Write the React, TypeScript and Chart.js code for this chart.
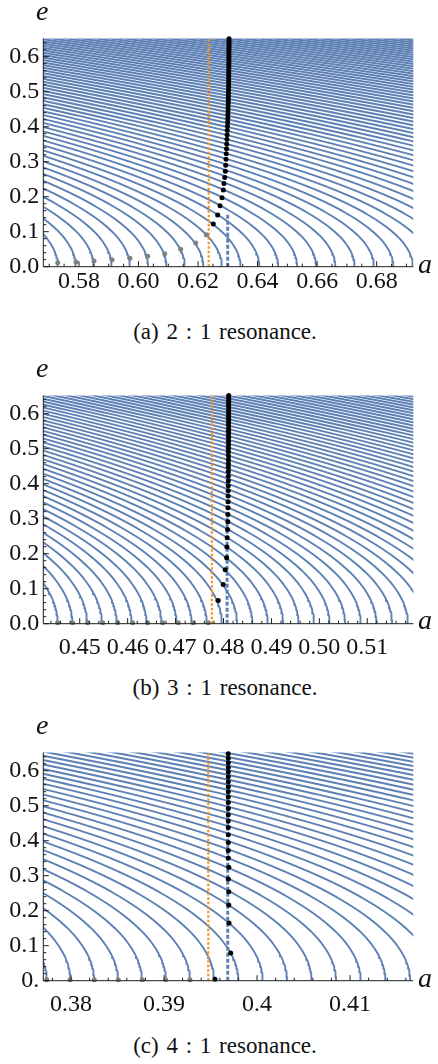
import React, { useEffect, useRef } from 'react';
import { Chart, registerables } from 'chart.js';

Chart.register(...registerables);

const SERIF = "'Liberation Serif', 'Times New Roman', 'DejaVu Serif', serif";
const CURVE_COLOR = '#5e81b5';
const ORANGE_COLOR = '#f7931e';
const GRAY_COLOR = '#808080';
const AXIS_COLOR = '#1e1e1e';

const E_MAX = 0.652;
const yTickValues = [0, 0.1, 0.2, 0.3, 0.4, 0.5, 0.6];

// ---------- (a) 2 : 1 resonance ----------
const r21Range = [0.56801, 0.6923];
const r21XTicks = [0.58, 0.6, 0.62, 0.64, 0.66, 0.68];
const r21XLabels = ['0.58', '0.60', '0.62', '0.64', '0.66', '0.68'];
const r21YLabels = ['0.0', '0.1', '0.2', '0.3', '0.4', '0.5', '0.6'];
const r21Resonance = 0.62996;
const r21ResonanceTop = 0.15;
const r21Orange = 0.62357;
const r21LevelFirst = 0.75692;
const r21LevelStep = 0.003949;
const r21LevelCount = 73;
const r21Coef = 1;
const r21Black = [
  [0.62511, 0.122], [0.62659, 0.148], [0.62737, 0.174], [0.62804, 0.197], [0.62848, 0.219],
  [0.62871, 0.238], [0.62895, 0.255], [0.62915, 0.273], [0.62928, 0.29], [0.62938, 0.307],
  [0.62948, 0.3225], [0.62956, 0.337], [0.62963, 0.3508], [0.6297, 0.3642], [0.62976, 0.3772],
  [0.62982, 0.3897], [0.62988, 0.4018], [0.62993, 0.4134], [0.62998, 0.4247], [0.63002, 0.4356],
  [0.63006, 0.4461], [0.6301, 0.4563], [0.63013, 0.4662], [0.63016, 0.4758], [0.63019, 0.4851],
  [0.63021, 0.4942], [0.63023, 0.503], [0.63025, 0.5116], [0.63027, 0.52], [0.63028, 0.5282],
  [0.63029, 0.5362], [0.6303, 0.544], [0.63031, 0.5517], [0.63032, 0.5592], [0.63033, 0.5666],
  [0.63034, 0.5738], [0.63034, 0.5809], [0.63035, 0.5879], [0.63035, 0.5948], [0.63036, 0.6015],
  [0.63036, 0.6081], [0.63037, 0.6146], [0.63037, 0.621], [0.63038, 0.6273], [0.63038, 0.6335],
  [0.63039, 0.6396], [0.63039, 0.6456], [0.6304, 0.6516],
];
const r21Gray = [
  [0.57285, 0.0114], [0.57899, 0.0133], [0.58504, 0.0162], [0.59109, 0.02], [0.59713, 0.024],
  [0.60308, 0.0297], [0.60879, 0.037], [0.61416, 0.05], [0.6192, 0.068], [0.62276, 0.0914],
];

// ---------- (b) 3 : 1 resonance ----------
const r31Range = [0.4424, 0.5196];
const r31XTicks = [0.45, 0.46, 0.47, 0.48, 0.49, 0.5, 0.51];
const r31XLabels = ['0.45', '0.46', '0.47', '0.48', '0.49', '0.50', '0.51'];
const r31YLabels = ['0.0', '0.1', '0.2', '0.3', '0.4', '0.5', '0.6'];
const r31Resonance = 0.48075;
const r31ResonanceTop = 0.652;
const r31Orange = 0.47758;
const r31LevelFirst = 0.66738;
const r31LevelStep = 0.00229;
const r31LevelCount = 64;
const r31Coef = 0.5;
const r31Black = [
  [0.4789, 0.0666], [0.47994, 0.1123], [0.48036, 0.154], [0.48065, 0.1886], [0.48071, 0.219],
  [0.48077, 0.2457], [0.48086, 0.2694], [0.48092, 0.2914], [0.48092, 0.312], [0.48095, 0.331],
  [0.48098, 0.3486], [0.48098, 0.3646], [0.481, 0.38], [0.481, 0.394], [0.48101, 0.408],
  [0.48101, 0.421], [0.48102, 0.434], [0.48102, 0.446], [0.48103, 0.458], [0.48103, 0.469],
  [0.48104, 0.48], [0.48104, 0.491], [0.48104, 0.501], [0.48105, 0.511], [0.48105, 0.521],
  [0.48105, 0.531], [0.48106, 0.54], [0.48106, 0.549], [0.48106, 0.558], [0.48106, 0.567],
  [0.48107, 0.576], [0.48107, 0.584], [0.48107, 0.592], [0.48107, 0.6], [0.48108, 0.608],
  [0.48108, 0.616], [0.48108, 0.624], [0.48108, 0.631], [0.48108, 0.638], [0.48109, 0.645],
  [0.48109, 0.652],
];
const r31Gray = [
  [0.4454, 0.003], [0.44853, 0.003], [0.45166, 0.003], [0.45479, 0.003], [0.45792, 0.003],
  [0.46104, 0.003], [0.46417, 0.003], [0.4673, 0.003], [0.47056, 0.003], [0.47368, 0.003],
  [0.47681, 0.003],
];

// ---------- (c) 4 : 1 resonance ----------
const r41Range = [0.37702, 0.4168];
const r41XTicks = [0.38, 0.39, 0.4, 0.41];
const r41XLabels = ['0.38', '0.39', '0.4', '0.41'];
const r41YLabels = ['0.', '0.1', '0.2', '0.3', '0.4', '0.5', '0.6'];
const r41Resonance = 0.39685;
const r41ResonanceTop = 0.652;
const r41Orange = 0.39476;
const r41LevelFirst = 0.61432;
const r41LevelStep = 0.002068;
const r41LevelCount = 43;
const r41Coef = 1 / 3;
const r41Black = [
  [0.39548, 0.004], [0.39717, 0.079], [0.39699, 0.165], [0.39696, 0.216], [0.39696, 0.254],
  [0.39691, 0.2905], [0.39696, 0.324], [0.39691, 0.3505], [0.39691, 0.372], [0.39691, 0.395],
  [0.39691, 0.417], [0.39691, 0.438], [0.39691, 0.456], [0.39691, 0.474], [0.39691, 0.492],
  [0.39691, 0.509], [0.39691, 0.525], [0.39691, 0.54], [0.39691, 0.5545], [0.39691, 0.5687],
  [0.39691, 0.5826], [0.39691, 0.5962], [0.39691, 0.6095], [0.39691, 0.6226], [0.39691, 0.6355],
  [0.39691, 0.6482],
];
const r41Gray = [
  [0.37739, 0.003], [0.37989, 0.003], [0.3825, 0.003], [0.38508, 0.003], [0.38766, 0.003],
  [0.39018, 0.003], [0.39279, 0.003],
];

type PanelCfg = {
  id: string;
  caption: string;
  plotTop: number;
  xRange: number[];
  xTicks: number[];
  xLabels: string[];
  yLabels: string[];
  xMinorStep: number;
  xLabelPad: number;
  resonance: number;
  resonanceTop: number;
  orange: number;
  levelFirst: number;
  levelStep: number;
  levelCount: number;
  coef: number;
  black: number[][];
  gray: number[][];
};

const panels: PanelCfg[] = [
  {
    id: 'a', caption: '(a) 2 : 1 resonance.', plotTop: 38.5,
    xRange: r21Range, xTicks: r21XTicks, xLabels: r21XLabels, yLabels: r21YLabels,
    xMinorStep: 0.005, xLabelPad: 0.5, resonance: r21Resonance, resonanceTop: r21ResonanceTop,
    orange: r21Orange, levelFirst: r21LevelFirst, levelStep: r21LevelStep,
    levelCount: r21LevelCount, coef: r21Coef, black: r21Black, gray: r21Gray,
  },
  {
    id: 'b', caption: '(b) 3 : 1 resonance.', plotTop: 395,
    xRange: r31Range, xTicks: r31XTicks, xLabels: r31XLabels, yLabels: r31YLabels,
    xMinorStep: 0.002, xLabelPad: 10, resonance: r31Resonance, resonanceTop: r31ResonanceTop,
    orange: r31Orange, levelFirst: r31LevelFirst, levelStep: r31LevelStep,
    levelCount: r31LevelCount, coef: r31Coef, black: r31Black, gray: r31Gray,
  },
  {
    id: 'c', caption: '(c) 4 : 1 resonance.', plotTop: 752.7,
    xRange: r41Range, xTicks: r41XTicks, xLabels: r41XLabels, yLabels: r41YLabels,
    xMinorStep: 0.002, xLabelPad: 10, resonance: r41Resonance, resonanceTop: r41ResonanceTop,
    orange: r41Orange, levelFirst: r41LevelFirst, levelStep: r41LevelStep,
    levelCount: r41LevelCount, coef: r41Coef, black: r41Black, gray: r41Gray,
  },
];

const CANVAS_W = 438;
const CANVAS_H = 300;
const PLOT_LEFT = 43.3;
const PLOT_RIGHT = 413.3;
const PLOT_H = 228.2;

// contour lines of the resonant invariant sqrt(a) * (1 + c (1 - sqrt(1 - e^2))) = level
function contourDatasets(p: PanelCfg) {
  const sets: any[] = [];
  for (let k = 0; k < p.levelCount; k++) {
    const level = p.levelFirst + k * p.levelStep;
    const pts: { x: number; y: number }[] = [];
    for (let i = 0; i <= 134; i++) {
      const e = i * 0.005;
      const f = 1 + p.coef * (1 - Math.sqrt(1 - e * e));
      pts.push({ x: (level / f) * (level / f), y: e });
    }
    sets.push({
      data: pts, showLine: true, borderColor: CURVE_COLOR, borderWidth: 1.9,
      pointRadius: 0, fill: false, order: 10, clip: 0,
    });
  }
  return sets;
}

const axesPlugin = {
  id: 'insideAxes',
  afterDraw(chart: any, _args: any, opts: any) {
    const { ctx, chartArea: ca, scales } = chart;
    const xs = scales.x;
    const ys = scales.y;
    ctx.save();
    ctx.strokeStyle = AXIS_COLOR;
    ctx.lineWidth = 1;
    ctx.beginPath();
    ctx.moveTo(ca.left, ca.top);
    ctx.lineTo(ca.left, ca.bottom);
    ctx.lineTo(ca.right, ca.bottom);
    ctx.stroke();
    ctx.beginPath();
    const xMin = opts.xMin, xMax = opts.xMax;
    const step = opts.xMinorStep;
    for (let v = Math.ceil(xMin / step - 1e-6) * step; v <= xMax + 1e-9; v += step) {
      const px = xs.getPixelForValue(v);
      const major = opts.xTicks.some((t: number) => Math.abs(t - v) < step / 10);
      const len = major ? 5.5 : 3;
      ctx.moveTo(px, ca.bottom);
      ctx.lineTo(px, ca.bottom - len);
    }
    for (let v = 0; v <= E_MAX + 1e-9; v += 0.02) {
      const py = ys.getPixelForValue(v);
      const major = Math.abs(v * 10 - Math.round(v * 10)) < 0.01;
      const len = major ? 5.5 : 3;
      ctx.moveTo(ca.left, py);
      ctx.lineTo(ca.left + len, py);
    }
    ctx.stroke();
    ctx.restore();
  },
};

function PanelChart({ p }: { p: PanelCfg }) {
  const ref = useRef<HTMLCanvasElement | null>(null);
  useEffect(() => {
    if (!ref.current) return;
    const datasets: any[] = [
      {
        data: p.black.map(([a, e]) => ({ x: a, y: e })), showLine: false,
        pointRadius: 2.5, pointBackgroundColor: '#000', pointBorderWidth: 0, order: 0, clip: 6,
      },
      {
        data: p.gray.map(([a, e]) => ({ x: a, y: e })), showLine: false,
        pointRadius: 2.5, pointBackgroundColor: GRAY_COLOR, pointBorderWidth: 0, order: 1, clip: 6,
      },
      {
        data: [{ x: p.orange, y: 0 }, { x: p.orange, y: E_MAX }], showLine: true,
        borderColor: ORANGE_COLOR, borderWidth: 2.2, borderDash: [2.5, 2], pointRadius: 0, order: 3,
      },
      {
        data: [{ x: p.resonance, y: 0 }, { x: p.resonance, y: p.resonanceTop }], showLine: true,
        borderColor: CURVE_COLOR, borderWidth: 3, borderDash: [4, 2], pointRadius: 0, order: 2,
      },
      ...contourDatasets(p),
    ];
    const tickFont = { family: SERIF, size: 24 };
    const chart = new Chart(ref.current, {
      type: 'scatter',
      data: { datasets },
      options: {
        animation: false,
        responsive: false,
        devicePixelRatio: 1,
        events: [],
        layout: { padding: { top: 38.5, right: CANVAS_W - PLOT_RIGHT, left: 0, bottom: 0 } },
        plugins: {
          legend: { display: false },
          tooltip: { enabled: false },
          insideAxes: { xMin: p.xRange[0], xMax: p.xRange[1], xMinorStep: p.xMinorStep, xTicks: p.xTicks },
        } as any,
        scales: {
          x: {
            type: 'linear', min: p.xRange[0], max: p.xRange[1],
            grid: { display: false, drawTicks: false },
            border: { display: false },
            afterBuildTicks: (s: any) => { s.ticks = p.xTicks.map((v) => ({ value: v })); },
            afterFit: (s: any) => { s.height = CANVAS_H - 38.5 - PLOT_H; },
            ticks: {
              padding: p.xLabelPad, maxRotation: 0, autoSkip: false, font: tickFont, color: '#111',
              callback: (_v: any, i: number) => p.xLabels[i],
            },
          },
          y: {
            type: 'linear', min: 0, max: E_MAX,
            grid: { display: false, drawTicks: false },
            border: { display: false },
            afterBuildTicks: (s: any) => { s.ticks = yTickValues.map((v) => ({ value: v })); },
            afterFit: (s: any) => { s.width = PLOT_LEFT; },
            ticks: {
              padding: 4, autoSkip: false, font: tickFont, color: '#111',
              callback: (_v: any, i: number) => p.yLabels[i],
            },
          },
        },
      } as any,
      plugins: [axesPlugin],
    });
    return () => chart.destroy();
  }, [p]);

  const canvasTop = p.plotTop - 38.5;
  const plotBottom = p.plotTop + PLOT_H;
  const lblStyle: React.CSSProperties = {
    position: 'absolute', fontFamily: SERIF, lineHeight: 1, whiteSpace: 'nowrap', color: '#111',
  };
  return (
    <>
      <canvas
        ref={ref}
        width={CANVAS_W}
        height={CANVAS_H}
        style={{ position: 'absolute', left: 0, top: canvasTop, width: CANVAS_W, height: CANVAS_H }}
      />
      <div style={{ ...lblStyle, fontStyle: 'italic', fontSize: 28, left: 36, top: p.plotTop - 18 - 0.8375 * 28 }}>e</div>
      <div style={{ ...lblStyle, fontStyle: 'italic', fontSize: 28, left: 418, top: plotBottom + 6.5 - 0.8375 * 28 }}>a</div>
      <div
        style={{
          ...lblStyle, fontSize: 23, wordSpacing: 2, left: 0, width: 450, textAlign: 'center',
          top: plotBottom + 72.2 - 0.8375 * 23,
        }}
      >
        {p.caption}
      </div>
    </>
  );
}

export default function App() {
  return (
    <div style={{ position: 'absolute', left: 0, top: 0, width: 438, height: 1064, background: '#fff', overflow: 'hidden' }}>
      {panels.map((p) => (
        <PanelChart key={p.id} p={p} />
      ))}
    </div>
  );
}
